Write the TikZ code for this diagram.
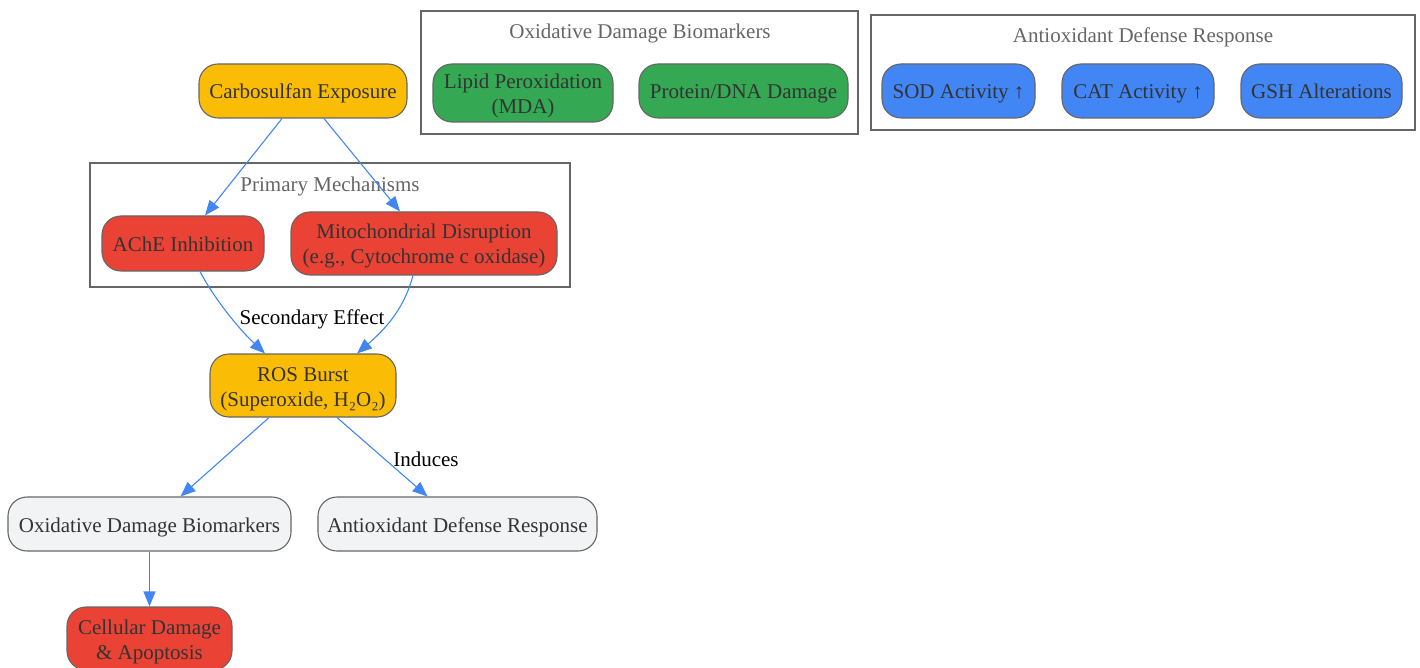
\documentclass[tikz,border=0pt]{standalone}
\usepackage{fontspec}
\setmainfont{Liberation Serif}
\usetikzlibrary{arrows.meta,calc}
\definecolor{gyel}{HTML}{FBBC05}
\definecolor{gred}{HTML}{EA4335}
\definecolor{ggreen}{HTML}{34A853}
\definecolor{gblue}{HTML}{4285F4}
\definecolor{glight}{HTML}{F1F3F4}
\definecolor{bord}{HTML}{666666}
\definecolor{txt}{HTML}{333333}
\definecolor{edge}{HTML}{4285F4}
\newcommand{\topstrut}{\rule{0pt}{20.5pt}}
\tikzset{
  box/.style={draw=bord, line width=1.1pt, rounded corners=19pt, inner sep=0pt, align=center,
    text=txt, font=\fontsize{21}{25}\selectfont},
  onebox/.style={box, text height=16pt, text depth=0pt},
  cluster/.style={draw=bord, line width=1.2pt, inner sep=0pt, fill=white},
  clabel/.style={text=bord, font=\fontsize{21}{25}\selectfont, inner sep=0pt, text height=16pt, text depth=0pt},
  elabel/.style={text=black, font=\fontsize{21}{25}\selectfont, inner sep=0pt, text height=16pt, text depth=0pt},
  conn/.style={draw=edge, line width=1.1pt, -{Triangle[length=15pt,width=12pt]}}
}
\begin{document}
\begin{tikzpicture}[x=1pt,y=-1pt]
\useasboundingbox (0,0) rectangle (1420,668);
% clusters
\node[cluster, minimum width=480pt, minimum height=124pt] (cpm) at (330,225) {};
\node[clabel] (cpml) at (330,184) {Primary Mechanisms};
\node[cluster, minimum width=437pt, minimum height=123pt] (cox) at (639.5,72.5) {};
\node[clabel] (coxl) at (640,31) {Oxidative Damage Biomarkers};
\node[cluster, minimum width=544pt, minimum height=115pt] (cad) at (1143,72.5) {};
\node[clabel] (cadl) at (1143,35) {Antioxidant Defense Response};
% nodes
\node[onebox, fill=gyel, minimum width=208pt, minimum height=54pt] (carb) at (303,91) {Carbosulfan Exposure};
\node[onebox, fill=gred, minimum width=162pt, minimum height=55pt] (ache) at (183,243.5) {AChE Inhibition};
\node[box, fill=gred, minimum width=266pt, minimum height=63pt] (mito) at (424,243.5) {\topstrut Mitochondrial Disruption\\(e.g., Cytochrome c oxidase)};
\node[box, fill=gyel, minimum width=186pt, minimum height=63pt] (ros) at (303,385.5) {\topstrut ROS Burst\\(Superoxide, H₂O₂)};
\node[onebox, fill=glight, minimum width=283pt, minimum height=54pt] (ox) at (149.5,524) {Oxidative Damage Biomarkers};
\node[onebox, fill=glight, minimum width=279pt, minimum height=54pt] (anti) at (457.5,524) {Antioxidant Defense Response};
\node[box, fill=gred, minimum width=165pt, minimum height=63pt] (cell) at (149.5,638.5) {\topstrut Cellular Damage\\\&~Apoptosis};
\node[box, fill=ggreen, minimum width=180pt, minimum height=58pt] (lipid) at (523,93) {\topstrut Lipid Peroxidation\\(MDA)};
\node[onebox, fill=ggreen, minimum width=209pt, minimum height=54pt] (prot) at (743.5,91) {Protein/DNA Damage};
\node[onebox, fill=gblue, minimum width=153pt, minimum height=54pt] (sod) at (958.5,91) {SOD Activity ↑};
\node[onebox, fill=gblue, minimum width=152pt, minimum height=54pt] (cat) at (1138,91) {CAT Activity ↑};
\node[onebox, fill=gblue, minimum width=161pt, minimum height=54pt] (gsh) at (1321.5,91) {GSH Alterations};
% connectors
\draw[conn] ($(carb.south)+(-21,0)$) -- ($(ache.north)+(22,0)$);
\draw[conn] ($(carb.south)+(21,0)$) -- ($(mito.north)+(-24,0)$);
\draw[conn] ($(ache.south)+(17,0)$) .. controls (215,300) and (240,330) .. ($(ros.north)+(-38,0)$);
\draw[conn] ($(mito.south)+(-11,0)$) .. controls (405,305) and (390,325) .. ($(ros.north)+(54,0)$);
\node[elabel] (lsec) at (312,316) {Secondary Effect};
\draw[conn] ($(ros.south)+(-34,0)$) -- ($(ox.north)+(31,0)$);
\draw[conn] ($(ros.south)+(34,0)$) -- ($(anti.north)+(-30,0)$);
\node[elabel] (lind) at (426,458) {Induces};
\draw[conn] (ox.south) -- (cell.north);
\end{tikzpicture}
\end{document}
